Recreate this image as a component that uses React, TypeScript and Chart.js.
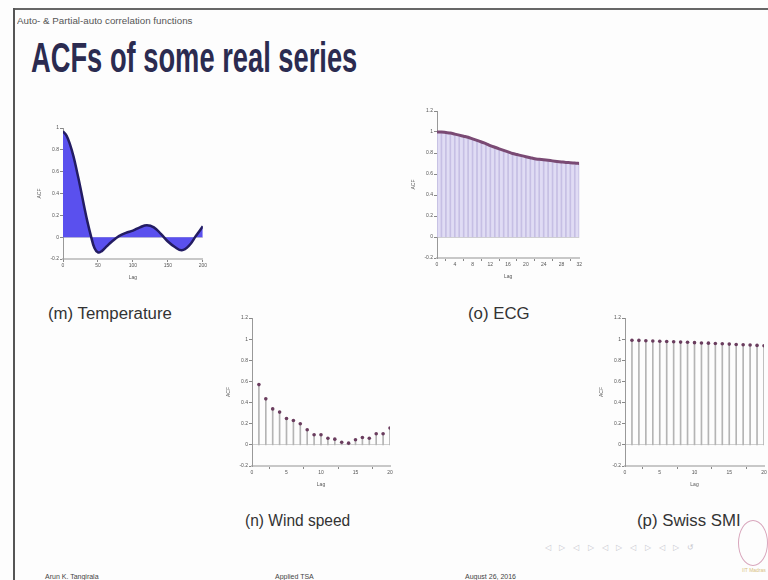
import React, { useEffect, useRef } from "react";
import { Chart, registerables } from "chart.js";

Chart.register(...registerables);

// ---------- data ----------
const tempLags = [0, 5, 10, 15, 20, 25, 30, 35, 40, 45, 50, 55, 60, 70, 80, 90, 100, 110, 120, 130, 140, 150, 160, 170, 180, 190, 200];
const tempAcf = [0.97, 0.93, 0.85, 0.74, 0.6, 0.45, 0.29, 0.14, 0.01, -0.1, -0.14, -0.13, -0.1, -0.04, 0.01, 0.04, 0.06, 0.09, 0.11, 0.09, 0.03, -0.04, -0.09, -0.12, -0.08, 0.01, 0.1];

const ecgLags = [0, 1, 2, 3, 4, 5, 6, 7, 8, 9, 10, 11, 12, 13, 14, 15, 16, 17, 18, 19, 20, 21, 22, 23, 24, 25, 26, 27, 28, 29, 30, 31, 32];
const ecgAcf = [1.0, 1.0, 0.995, 0.99, 0.98, 0.97, 0.96, 0.95, 0.935, 0.92, 0.905, 0.89, 0.87, 0.855, 0.84, 0.825, 0.81, 0.795, 0.785, 0.775, 0.765, 0.755, 0.745, 0.74, 0.735, 0.73, 0.725, 0.72, 0.715, 0.71, 0.708, 0.705, 0.7];

const windLags = [1, 2, 3, 4, 5, 6, 7, 8, 9, 10, 11, 12, 13, 14, 15, 16, 17, 18, 19, 20];
const windAcf = [0.57, 0.435, 0.34, 0.31, 0.25, 0.23, 0.2, 0.143, 0.095, 0.095, 0.063, 0.054, 0.025, 0.016, 0.048, 0.07, 0.063, 0.105, 0.105, 0.16];

const smiLags = [1, 2, 3, 4, 5, 6, 7, 8, 9, 10, 11, 12, 13, 14, 15, 16, 17, 18, 19, 20];
const smiAcf = [0.99, 0.988, 0.985, 0.983, 0.98, 0.977, 0.975, 0.972, 0.97, 0.967, 0.964, 0.962, 0.959, 0.956, 0.953, 0.95, 0.947, 0.944, 0.941, 0.938];

const tempXTicks = { min: 0, max: 200, step: 50 };
const ecgXTicks = { min: 0, max: 32, step: 4 };
const windXTicks = { min: 0, max: 20, step: 5 };
const smiXTicks = { min: 0, max: 20, step: 5 };
const tempYTicks = { min: -0.2, max: 1, step: 0.2 };
const acfYTicks = { min: -0.2, max: 1.2, step: 0.2 };

const pts = (xs: number[], ys: number[]) => xs.map((x, i) => ({ x, y: ys[i] }));

const FONT = "Liberation Sans";

function makeScales(xt: any, yt: any) {
  const tf = { family: FONT, size: 5 };
  return {
    x: {
      type: "linear" as const,
      min: xt.min,
      max: xt.max,
      offset: false,
      ticks: { stepSize: xt.step, font: tf, color: "#555", padding: 1, maxRotation: 0, autoSkip: false },
      grid: { display: true, drawOnChartArea: false, tickLength: 3, tickColor: "#888" },
      border: { display: true, color: "#c8c8c8", width: 2 },
      title: { display: true, text: "Lag", font: tf, color: "#555", padding: 0 },
      afterFit: (s: any) => { s.height = 22; },
    },
    y: {
      type: "linear" as const,
      min: yt.min,
      max: yt.max,
      ticks: {
        stepSize: yt.step,
        font: tf,
        color: "#555",
        padding: 1,
        callback: (v: any) => String(Math.round(Number(v) * 10) / 10),
      },
      grid: {
        display: true,
        drawOnChartArea: true,
        tickLength: 3,
        tickColor: "#888",
        color: (c: any) => (c.tick && Math.abs(c.tick.value) < 1e-9 ? "#d0d0d0" : "rgba(0,0,0,0)"),
      },
      border: { display: true, color: "#999", width: 1 },
      title: { display: true, text: "ACF", font: tf, color: "#555", padding: 0 },
      afterFit: (s: any) => { s.width = 26; },
    },
  };
}

function baseOpts(xt: any, yt: any): any {
  return {
    responsive: false,
    animation: false,
    devicePixelRatio: 1,
    layout: { padding: { left: 0, top: 4, right: 3, bottom: 0 } },
    plugins: { legend: { display: false }, tooltip: { enabled: false } },
    scales: makeScales(xt, yt),
  };
}

function useChart(ref: React.RefObject<HTMLCanvasElement>, make: () => any) {
  useEffect(() => {
    if (!ref.current) return;
    const chart = new Chart(ref.current, make());
    return () => chart.destroy();
  }, []);
}

function Box(props: { left: number; top: number; w: number; h: number; make: () => any }) {
  const ref = useRef<HTMLCanvasElement>(null);
  useChart(ref, props.make);
  return (
    <canvas
      ref={ref}
      width={props.w}
      height={props.h}
      style={{ position: "absolute", left: props.left, top: props.top, width: props.w, height: props.h }}
    />
  );
}

const tempConfig = () => ({
  type: "line",
  data: {
    datasets: [
      {
        data: pts(tempLags, tempAcf),
        borderColor: "#231c63",
        backgroundColor: "#5a50ee",
        borderWidth: 2.5,
        pointRadius: 0,
        tension: 0.4,
        fill: "origin",
      },
    ],
  },
  options: baseOpts(tempXTicks, tempYTicks),
});

const ecgConfig = () => ({
  type: "bar",
  data: {
    datasets: [
      {
        type: "line",
        data: pts(ecgLags, ecgAcf),
        borderWidth: 0,
        borderColor: "rgba(0,0,0,0)",
        backgroundColor: "rgba(218,214,242,0.85)",
        pointRadius: 0,
        tension: 0.3,
        fill: "origin",
        order: 3,
      },
      {
        type: "bar",
        data: pts(ecgLags, ecgAcf),
        backgroundColor: "#c6bfe4",
        barThickness: 1,
        order: 2,
      },
      {
        type: "line",
        data: pts(ecgLags, ecgAcf),
        borderColor: "#7a4a74",
        borderWidth: 3,
        pointRadius: 0,
        tension: 0.3,
        fill: false,
        order: 1,
      },
    ],
  },
  options: baseOpts(ecgXTicks, acfYTicks),
});

const stemConfig = (xs: number[], ys: number[], xt: any) => () => ({
  type: "bar",
  data: {
    datasets: [
      {
        type: "bar",
        data: pts(xs, ys),
        backgroundColor: "#b4b4b4",
        barThickness: 1,
        order: 2,
      },
      {
        type: "line",
        data: pts(xs, ys),
        showLine: false,
        pointRadius: 1.8,
        pointBackgroundColor: "#6a3d5e",
        pointBorderColor: "#6a3d5e",
        pointBorderWidth: 0,
        order: 1,
      },
    ],
  },
  options: baseOpts(xt, acfYTicks),
});

function T(props: { x: number; y: number; size: number; sx?: number; bold?: boolean; color?: string; ls?: number; children: any }) {
  return (
    <div
      style={{
        position: "absolute",
        left: props.x,
        top: props.y,
        fontFamily: FONT,
        fontSize: props.size,
        fontWeight: props.bold ? "bold" : "normal",
        color: props.color || "#333",
        lineHeight: 1,
        whiteSpace: "nowrap",
        letterSpacing: props.ls ?? 0,
        transform: `scaleX(${props.sx ?? 1})`,
        transformOrigin: "left top",
      }}
    >
      {props.children}
    </div>
  );
}

export default function App() {
  return (
    <div style={{ position: "fixed", left: 0, top: 0, width: 768, height: 580, background: "#fdfdfd", overflow: "hidden" }}>
      <div style={{ position: "absolute", left: 13, top: 8, width: 755, height: 2, background: "#666" }} />
      <div style={{ position: "absolute", left: 13, top: 8, width: 2, height: 572, background: "#555" }} />

      <T x={17} y={17} size={8.5} color="#555" sx={1.15}>Auto- &amp; Partial-auto correlation functions</T>
      <T x={31} y={36} size={43} bold color="#2b2b50" sx={0.635}>ACFs of some real series</T>

      <Box left={37} top={124} w={171} h={157} make={tempConfig} />
      <Box left={411} top={107} w={172} h={173} make={ecgConfig} />
      <Box left={226} top={314} w={168} h={174} make={stemConfig(windLags, windAcf, windXTicks)} />
      <Box left={599} top={314} w={169} h={174} make={stemConfig(smiLags, smiAcf, smiXTicks)} />

      <T x={48} y={306} size={16} color="#333" sx={1.05}>(m) Temperature</T>
      <T x={468} y={306} size={16} color="#333" sx={1.05}>(o) ECG</T>
      <T x={245} y={513} size={16} color="#333" sx={0.97}>(n) Wind speed</T>
      <T x={637} y={513} size={16} color="#333" sx={1.05}>(p) Swiss SMI</T>

      <T x={545} y={544} size={8} color="#c8c8d0" ls={3}>◁ ▷ ◁ ▷ ◁ ▷ ◁ ▷ ◁ ▷ ↺</T>
      <div style={{ position: "absolute", left: 738, top: 520, width: 28, height: 44, border: "1.5px solid #d8a6bc", borderRadius: "50%" }} />
      <T x={742} y={568} size={5} color="#d8c080">IIT Madras</T>

      <T x={45} y={573} size={7} color="#444">Arun K. Tangirala</T>
      <T x={275} y={573} size={7} color="#444">Applied TSA</T>
      <T x={465} y={573} size={7} color="#444">August 26, 2016</T>
    </div>
  );
}
